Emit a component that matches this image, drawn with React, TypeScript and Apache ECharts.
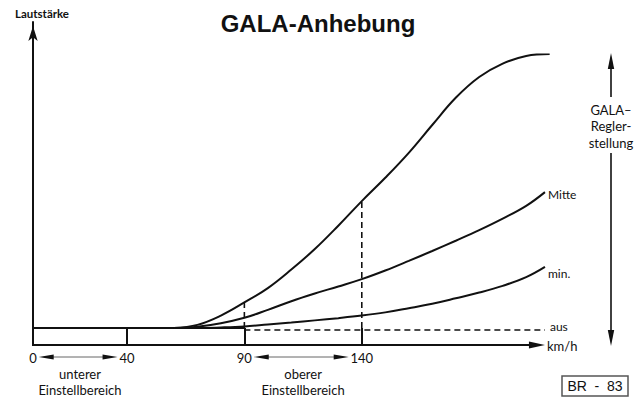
import React, { useEffect, useRef } from "react";
import * as echarts from "echarts";

// ---- data (km/h vs. relative Lautstärke) ----
const speeds = [60, 70, 80, 90, 100, 110, 120, 130, 140, 150, 160, 170, 180, 190, 200, 210, 220];
const maxLevel = [5.3, 6.3, 9.2, 13.3, 17.8, 23.6, 30.0, 37.3, 45.0, 52.3, 60.1, 68.8, 77.3, 83.8, 88.0, 90.4, 91.0];
const midSpeeds = [60, 70, 80, 90, 100, 110, 120, 130, 140, 150, 160, 170, 180, 190, 200, 210, 218];
const midLevel = [5.3, 5.7, 6.8, 8.5, 11.0, 13.7, 16.1, 18.3, 20.6, 23.3, 26.3, 29.4, 32.6, 35.9, 39.5, 43.5, 47.8];
const minLevel = [5.3, 5.35, 5.5, 5.8, 6.4, 7.0, 7.7, 8.4, 9.2, 10.2, 11.5, 12.9, 14.6, 16.4, 18.5, 21.2, 24.4];
const baseSpeeds = [0, 90];
const baseLevel = 5.3;
const ausSpeeds = [90, 218];
const ausLevel = 4.7;
const axisEnd = 218;
const tickLabels = [0, 40, 90, 140];
const innerTicks = [40, 90, 140];
const markSpeeds = [90, 140];
const markLevels = [13.3, 45.0];
const rangeStart = [0, 90];
const rangeEnd = [40, 140];
const rangeLabels = ["unterer\nEinstellbereich", "oberer\nEinstellbereich"];
const curveLabels = ["Mitte", "min.", "aus"];
const reglerLabel = "GALA–\nRegler-\nstellung";

const INK = "#111";
const SANS = "Lato, 'Open Sans', sans-serif";

export default function App() {
  const ref = useRef<HTMLDivElement>(null);

  useEffect(() => {
    const chart = echarts.init(ref.current!, null, { renderer: "svg" });
    const solid = { color: INK, width: 2 };
    const dashed = { color: INK, width: 1.6, type: [6, 4] as any };
    const noDot = { showSymbol: false, symbol: "none" };

    const pairs = (xs: number[], ys: number[]) => xs.map((x, i) => [x, ys[i]]);
    const midData = pairs(midSpeeds, midLevel);
    const minData = pairs(midSpeeds, minLevel);
    const ausData = pairs(ausSpeeds, ausSpeeds.map(() => ausLevel));

    chart.setOption({
      animation: false,
      backgroundColor: "#fff",
      title: {
        text: "GALA-Anhebung",
        left: 313,
        textAlign: "center",
        top: 6,
        textStyle: { fontFamily: "'Liberation Sans', Arial, sans-serif", fontWeight: "bold", fontSize: 24, color: INK },
      },
      grid: { left: 33, right: 78.6, top: 22, bottom: 56, containLabel: false },
      xAxis: {
        type: "value",
        min: 0,
        max: 225,
        splitLine: { show: false },
        axisLine: { show: false },
        axisTick: { show: true, customValues: innerTicks, inside: true, length: 17, lineStyle: { color: INK, width: 2 } },
        axisLabel: { show: true, customValues: tickLabels, fontFamily: SANS, fontSize: 13, color: INK, margin: 6 },
      },
      yAxis: {
        type: "value",
        min: 0,
        max: 101,
        name: "Lautstärke",
        nameLocation: "end",
        nameGap: 3,
        nameTextStyle: { fontFamily: SANS, fontSize: 11.5, fontWeight: "bold", color: INK, padding: [0, 0, 0, 18] },
        splitLine: { show: false },
        axisTick: { show: false },
        axisLabel: { show: false },
        axisLine: { show: true, lineStyle: { color: INK, width: 2 }, symbol: ["none", "arrow"], symbolSize: [7, 15], symbolOffset: [0, -4] },
      },
      series: [
        { type: "line", data: pairs(baseSpeeds, baseSpeeds.map(() => baseLevel)), ...noDot, lineStyle: solid, silent: true },
        { type: "line", name: "aus", data: ausData, ...noDot, lineStyle: dashed, silent: true },
        { type: "line", name: "max", data: pairs(speeds, maxLevel), smooth: 0.4, ...noDot, lineStyle: solid, silent: true },
        { type: "line", name: "Mitte", data: midData, smooth: 0.4, ...noDot, lineStyle: solid, silent: true },
        { type: "line", name: "min.", data: minData, smooth: 0.4, ...noDot, lineStyle: solid, silent: true },
        ...markSpeeds.map((s, i) => ({
          type: "line", data: [[s, baseLevel], [s, markLevels[i]]], ...noDot, lineStyle: dashed, silent: true,
        })),
      ],
    });

    const px = (x: number, y: number) => chart.convertToPixel({ gridIndex: 0 }, [x, y]) as number[];
    const axisY = px(0, 0)[1];
    const tri = (tipX: number, tipY: number, dir: "l" | "r" | "u" | "d", len = 14, half = 3) => {
      let pts: number[][];
      if (dir === "l") pts = [[tipX, tipY], [tipX + len, tipY - half], [tipX + len, tipY + half]];
      else if (dir === "r") pts = [[tipX, tipY], [tipX - len, tipY - half], [tipX - len, tipY + half]];
      else if (dir === "u") pts = [[tipX, tipY], [tipX - half, tipY + len], [tipX + half, tipY + len]];
      else pts = [[tipX, tipY], [tipX - half, tipY - len], [tipX + half, tipY - len]];
      return { type: "polygon", shape: { points: pts }, style: { fill: INK }, silent: true };
    };
    const halfW = (v: number) => String(v).length * 3.7 + 2;

    const graphic: any[] = [];

    // x axis line with arrow, and unit
    const x0a = px(0, 0)[0];
    const xTip = px(axisEnd, 0)[0];
    graphic.push({ type: "line", shape: { x1: x0a - 1, y1: axisY, x2: xTip - 10, y2: axisY }, style: { stroke: INK, lineWidth: 2 }, silent: true });
    graphic.push(tri(xTip, axisY, "r", 16, 3.5));
    graphic.push({
      type: "text", x: xTip + 2, y: axisY + 1,
      style: { text: "km/h", fontFamily: SANS, fontSize: 13, fill: INK, align: "left", verticalAlign: "middle" },
      silent: true,
    });

    // curve end labels
    const ends = [midData[midData.length - 1], minData[minData.length - 1], ausData[ausData.length - 1]];
    const dy = [2, 7, -3];
    const dx = [3, 3, 5];
    ends.forEach((pt, i) => {
      const p = px(pt[0], pt[1]);
      graphic.push({
        type: "text", x: p[0] + dx[i], y: p[1] + dy[i],
        style: { text: curveLabels[i], fontFamily: SANS, fontSize: 12, fill: INK, align: "left", verticalAlign: "middle" },
        silent: true,
      });
    });

    const ay = axisY + 12;
    rangeStart.forEach((s, i) => {
      const e = rangeEnd[i];
      const x0 = px(s, 0)[0] + halfW(s);
      const x1 = px(e, 0)[0] - halfW(e);
      graphic.push({ type: "line", shape: { x1: x0 + 8, y1: ay, x2: x1 - 8, y2: ay }, style: { stroke: "#666", lineWidth: 1 }, silent: true });
      graphic.push(tri(x0, ay, "l", 15, 2.6));
      graphic.push(tri(x1, ay, "r", 15, 2.6));
      const mx = (px(s, 0)[0] + px(e, 0)[0]) / 2;
      graphic.push({
        type: "text", x: mx, y: axisY + 37,
        style: { text: rangeLabels[i], fontFamily: SANS, fontSize: 13, fill: INK, align: "center", verticalAlign: "middle", lineHeight: 16 },
        silent: true,
      });
    });

    // right-hand Regler-stellung double arrow
    const rx = 611;
    graphic.push({ type: "line", shape: { x1: rx, y1: 62, x2: rx, y2: 97 }, style: { stroke: INK, lineWidth: 1.6 }, silent: true });
    graphic.push(tri(rx, 53, "u", 16, 3.2));
    graphic.push({
      type: "text", x: rx, y: 126,
      style: { text: reglerLabel, fontFamily: SANS, fontSize: 13, fill: INK, align: "center", verticalAlign: "middle", lineHeight: 16.5 },
      silent: true,
    });
    graphic.push({ type: "line", shape: { x1: rx, y1: 153, x2: rx, y2: 336 }, style: { stroke: INK, lineWidth: 1.6 }, silent: true });
    graphic.push(tri(rx, 346, "d", 16, 3.2));

    // BR - 83 box
    graphic.push({ type: "rect", shape: { x: 562, y: 376, width: 66, height: 20 }, style: { fill: "#fff", stroke: "#555", lineWidth: 1.5 }, silent: true });
    graphic.push({
      type: "text", x: 595, y: 386,
      style: { text: "BR  -  83", fontFamily: "'Liberation Sans', Arial, sans-serif", fontSize: 14, fill: INK, align: "center", verticalAlign: "middle" },
      silent: true,
    });

    chart.setOption({ graphic });

    return () => chart.dispose();
  }, []);

  return <div ref={ref} style={{ position: "fixed", left: 0, top: 0, width: 640, height: 401, background: "#fff" }} />;
}
